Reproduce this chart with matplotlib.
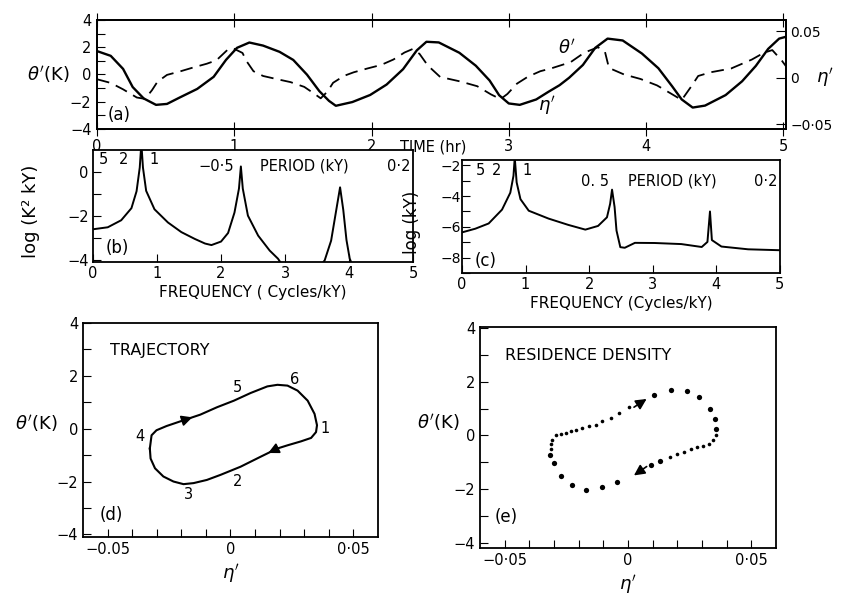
import numpy as np
import matplotlib.pyplot as plt

plt.rcParams['font.family'] = ['DejaVu Sans']
plt.rcParams['axes.linewidth'] = 1.3
plt.rcParams['font.size'] = 10

# (a) time series: theta' (dashed, K) and eta' (solid, right axis)
time_theta = [0.00, 0.10, 0.19, 0.29, 0.35, 0.40, 0.44, 0.51, 0.61, 0.70, 0.80, 0.87, 0.95, 0.99,
              1.06, 1.09, 1.14, 1.21, 1.31, 1.41, 1.51, 1.58, 1.63, 1.68, 1.72, 1.80, 1.87, 1.97,
              2.07, 2.16, 2.24, 2.30, 2.35, 2.41, 2.50, 2.65, 2.77, 2.87, 2.94, 2.99, 3.06, 3.14,
              3.23, 3.31, 3.45, 3.55, 3.65, 3.70, 3.73, 3.84, 3.96, 4.08, 4.18, 4.26, 4.33, 4.38,
              4.47, 4.62, 4.77, 4.86, 4.92, 4.99, 5.02]
theta_vals = [-0.35, -0.62, -1.09, -1.69, -1.79, -1.16, -0.54, -0.03, 0.24, 0.51, 0.79, 1.04, 1.80, 1.93,
              1.58, 0.97, 0.24, -0.11, -0.34, -0.56, -0.91, -1.39, -1.75, -1.24, -0.61, -0.10, 0.16, 0.44,
              0.70, 1.10, 1.61, 1.87, 1.51, 0.66, -0.18, -0.52, -0.86, -1.46, -1.81, -1.43, -0.67, -0.16,
              0.24, 0.45, 0.90, 1.60, 2.00, 1.70, 0.48, 0.00, -0.33, -0.80, -1.39, -1.87, -0.87, -0.11,
              0.16, 0.44, 1.09, 1.60, 1.79, 1.01, 0.60]
time_eta = [0.00, 0.10, 0.19, 0.26, 0.34, 0.43, 0.51, 0.60, 0.73, 0.85, 0.94, 1.02, 1.11, 1.21,
            1.33, 1.43, 1.53, 1.62, 1.69, 1.74, 1.86, 1.99, 2.11, 2.23, 2.33, 2.40, 2.49, 2.64,
            2.76, 2.86, 2.93, 3.00, 3.08, 3.20, 3.29, 3.37, 3.44, 3.54, 3.63, 3.72, 3.83, 3.97,
            4.09, 4.19, 4.26, 4.34, 4.43, 4.58, 4.70, 4.80, 4.89, 4.97, 5.02]
eta_vals = [0.0286, 0.0235, 0.0095, -0.0100, -0.0222, -0.0291, -0.0281, -0.0214, -0.0120, 0.0010, 0.0192,
            0.0321, 0.0378, 0.0345, 0.0278, 0.0191, 0.0033, -0.0144, -0.0248, -0.0301, -0.0261, -0.0185,
            -0.0073, 0.0092, 0.0294, 0.0386, 0.0379, 0.0268, 0.0129, -0.0029, -0.0188, -0.0276, -0.0291,
            -0.0233, -0.0150, -0.0080, 0.0000, 0.0137, 0.0321, 0.0420, 0.0400, 0.0260, 0.0102, -0.0091,
            -0.0233, -0.0320, -0.0299, -0.0186, -0.0038, 0.0127, 0.0310, 0.0420, 0.0440]

# (b) spectrum of theta'
freq_b = [0.00, 0.23, 0.44, 0.60, 0.68, 0.73, 0.755, 0.78, 0.83, 0.96, 1.17, 1.38, 1.59, 1.75, 1.85,
          2.00, 2.11, 2.21, 2.28, 2.31, 2.34, 2.42, 2.58, 2.76, 2.89, 2.97, 3.55, 3.62, 3.72, 3.80,
          3.86, 3.91, 3.96, 4.01, 4.06]
logpow_b = [-2.61, -2.52, -2.20, -1.65, -0.88, 0.20, 1.30, 0.20, -0.86, -1.70, -2.30, -2.74, -3.05, -3.26,
            -3.33, -3.17, -2.78, -1.85, -0.76, 0.25, -0.76, -1.99, -2.90, -3.58, -3.95, -4.3, -4.3, -4.02,
            -3.13, -1.74, -0.70, -1.73, -3.10, -3.94, -4.3]

# (c) spectrum of eta'
freq_c = [0.00, 0.21, 0.42, 0.63, 0.76, 0.81, 0.83, 0.86, 0.92, 1.05, 1.36, 1.67, 1.94, 2.14, 2.28,
          2.33, 2.36, 2.40, 2.43, 2.49, 2.56, 2.72, 3.03, 3.45, 3.77, 3.86, 3.90, 3.93, 4.08, 4.50, 5.00]
logpow_c = [-6.36, -6.12, -5.78, -4.88, -3.78, -2.68, -1.50, -3.11, -4.20, -4.95, -5.46, -5.87, -6.18,
            -5.94, -5.38, -4.50, -3.58, -4.71, -6.24, -7.32, -7.36, -7.04, -7.05, -7.12, -7.31, -6.98,
            -5.00, -6.86, -7.28, -7.46, -7.52]

period_ticks = ['5', '2', '1', '0·5', '0·2']

# (d) trajectory in (eta', theta') plane
traj_eta = [-0.0328, -0.0321, -0.0301, -0.0260, -0.0184, -0.0123, -0.0055, 0.0014, 0.0082, 0.0150,
            0.0191, 0.0232, 0.0273, 0.0314, 0.0342, 0.0352, 0.0348, 0.0328, 0.0287, 0.0232, 0.0191,
            0.0123, 0.0041, -0.0041, -0.0096, -0.0150, -0.0191, -0.0232, -0.0273, -0.0307, -0.0325,
            -0.0328]
traj_theta = [-0.75, -0.25, -0.06, 0.10, 0.34, 0.53, 0.81, 1.06, 1.35, 1.60, 1.66, 1.63, 1.44, 1.06,
              0.56, 0.13, -0.13, -0.35, -0.48, -0.63, -0.75, -1.06, -1.44, -1.75, -1.94, -2.06, -2.10,
              -2.00, -1.81, -1.50, -1.13, -0.75]
time_marks = ['1', '2', '3', '4', '5', '6']
mark_eta = [0.0383, 0.0027, -0.0171, -0.0369, 0.0027, 0.0260]
mark_theta = [0.00, -2.00, -2.50, -0.28, 1.56, 1.85]

# (e) residence density points
dens_eta = [-0.0316, -0.0314, -0.0311, -0.0307, -0.0293, -0.0273, -0.0253, -0.0232, -0.0212, -0.0185,
            -0.0158, -0.0131, -0.0104, -0.0070, -0.0036, 0.0004, 0.0105, 0.0173, 0.0241, 0.0288,
            0.0332, 0.0351, 0.0357, 0.0355, 0.0346, 0.0328, 0.0305, 0.0281, 0.0254, 0.0227, 0.0200,
            0.0170, 0.0130, 0.0092, -0.0043, -0.0104, -0.0169, -0.0226, -0.0270, -0.0300]
dens_theta = [-0.73, -0.52, -0.33, -0.15, 0.00, 0.07, 0.10, 0.15, 0.20, 0.28, 0.35, 0.41, 0.53, 0.65,
              0.84, 1.06, 1.52, 1.70, 1.67, 1.43, 0.99, 0.62, 0.25, 0.00, -0.17, -0.30, -0.40, -0.44,
              -0.52, -0.60, -0.69, -0.80, -0.95, -1.10, -1.75, -1.94, -2.04, -1.85, -1.53, -1.04]
dens_big = [1, 0, 0, 0, 0, 0, 0, 0, 0, 0, 0, 0, 0, 0, 0, 0, 1, 1, 1, 1,
            1, 1, 1, 0, 0, 0, 0, 0, 0, 0, 0, 0, 1, 1, 1, 1, 1, 1, 1, 1]

fig = plt.figure(figsize=(8.45, 5.98), dpi=100)

# ---------------- (a)
ax = fig.add_axes([0.1148, 0.7843, 0.8154, 0.1823])
ax.plot(time_theta, theta_vals, color='k', lw=1.3, dashes=(7, 4))
ax.set_xlim(0, 5.02)
ax.set_ylim(-4, 4)
ax.set_yticks(range(-4, 5))
ax.set_yticklabels(['−4', '', '−2', '', '0', '', '2', '', '4'])
ax.set_xticks(range(0, 6))
ax.tick_params(axis='y', direction='in', length=6, labelsize=10.5, pad=4)
ax.tick_params(axis='x', direction='inout', length=10, labelsize=10.5, top=True, pad=2)
ax2 = ax.twinx()
ax2.plot(time_eta, eta_vals, color='k', lw=1.7)
ax2.set_ylim(-0.055, 0.062)
ax2.set_yticks([-0.05, 0, 0.05])
ax2.set_yticklabels(['−0·05', '0', '0.05'])
ax2.tick_params(axis='y', direction='in', length=7, labelsize=10, pad=3)
ax.text(-0.04, 0.5, r"$\theta'$(K)", transform=ax.transAxes, ha='right', va='center', fontsize=13)
ax2.text(1.043, 0.47, r"$\eta'$", transform=ax2.transAxes, ha='left', va='center', fontsize=13)
ax.text(0.08, -2.95, '(a)', fontsize=12, va='center')
ax.text(3.42, 1.95, r"$\theta'$", fontsize=13, ha='center', va='center')
ax.text(3.28, -2.3, r"$\eta'$", fontsize=13, ha='center', va='center')
ax.text(2.45, -0.1, 'TIME (hr)', transform=ax.get_xaxis_transform(), ha='center', va='top', fontsize=10.5)

# ---------------- (b)
axb = fig.add_axes([0.1101, 0.5619, 0.3787, 0.1873])
axb.plot(freq_b, logpow_b, color='k', lw=1.4)
axb.set_xlim(0, 5)
axb.set_ylim(-4.1, 1.0)
axb.set_yticks([0, -1, -2, -3, -4])
axb.set_yticklabels(['0', '', '−2', '', '−4'])
axb.set_xticks(range(0, 6))
axb.tick_params(direction='in', length=6, labelsize=10.5, pad=3)
axb.set_ylabel('log (K² kY)', fontsize=13)
axb.yaxis.set_label_coords(-0.165, 0.45)
axb.set_xlabel('FREQUENCY ( Cycles/kY)', fontsize=11, labelpad=3)
axb.text(0.2, -3.45, '(b)', fontsize=12, va='center')

# ---------------- (c)
axc = fig.add_axes([0.5467, 0.5435, 0.3763, 0.189])
axc.plot(freq_c, logpow_c, color='k', lw=1.4)
axc.set_xlim(0, 5)
axc.set_ylim(-9.0, -1.65)
axc.set_yticks(range(-2, -10, -1))
axc.set_yticklabels(['−2', '', '−4', '', '−6', '', '−8', ''])
axc.set_xticks(range(0, 6))
axc.tick_params(axis='x', direction='in', length=6, labelsize=10.5, pad=3)
axc.tick_params(axis='y', direction='in', length=6, labelsize=10, pad=1)
axc.set_ylabel('log (kY)', fontsize=12)
axc.yaxis.set_label_coords(-0.13, 0.45)
axc.set_xlabel('FREQUENCY (Cycles/kY)', fontsize=11, labelpad=3)
axc.text(0.2, -8.2, '(c)', fontsize=12, va='center')

# period labels along the top of (b) and (c)
for a, xs, y1, y2, half in [(axb, [0.16, 0.47, 0.96, 1.92, 4.78], 0.985, 0.92, '−0·5'),
                            (axc, [0.29, 0.55, 1.02, 2.09, 4.78], 0.975, 0.88, '0. 5')]:
    labs = period_ticks[:3] + [half, period_ticks[4]]
    for i, (xp, lab) in enumerate(zip(xs, labs)):
        yy = y1 if i < 3 else y2
        a.text(xp, yy, lab, transform=a.get_xaxis_transform(), ha='center', va='top', fontsize=10.5)
    a.text(3.3, y2, 'PERIOD (kY)', transform=a.get_xaxis_transform(), ha='center', va='top', fontsize=10.5)

# ---------------- (d)
axd = fig.add_axes([0.0982, 0.102, 0.3491, 0.3579])
axd.plot(traj_eta, traj_theta, color='k', lw=1.5)
for i0, i1 in [(4, 5), (20, 21)]:
    axd.annotate('', xy=(traj_eta[i1], traj_theta[i1]), xytext=(traj_eta[i0], traj_theta[i0]),
                 arrowprops=dict(arrowstyle='-|>', color='k', lw=1.2, mutation_scale=16, shrinkB=6))
for lab, xe, yt in zip(time_marks, mark_eta, mark_theta):
    axd.text(xe, yt, lab, fontsize=10.5, ha='center', va='center')
axd.text(0.09, 0.87, 'TRAJECTORY', transform=axd.transAxes, fontsize=11.5, va='center')
axd.text(0.055, -3.25, '(d)', transform=axd.get_yaxis_transform(), fontsize=12, va='center')

# ---------------- (e)
axe = fig.add_axes([0.568, 0.0836, 0.3503, 0.3696])
big = np.array(dens_big, dtype=bool)
de = np.array(dens_eta)
dt = np.array(dens_theta)
axe.plot(de[~big], dt[~big], 'o', color='k', ms=2.6, mec='none')
axe.plot(de[big], dt[big], 'o', color='k', ms=3.8, mec='none')
axe.annotate('', xy=(0.0085, 1.42), xytext=(0.0015, 1.0),
             arrowprops=dict(arrowstyle='-|>', color='k', lw=1.2, mutation_scale=16))
axe.annotate('', xy=(0.0015, -1.55), xytext=(0.0085, -1.1),
             arrowprops=dict(arrowstyle='-|>', color='k', lw=1.2, mutation_scale=16))
axe.text(0.085, 0.87, 'RESIDENCE DENSITY', transform=axe.transAxes, fontsize=11.5, va='center')
axe.text(0.05, -3.05, '(e)', transform=axe.get_yaxis_transform(), fontsize=12, va='center')

for a, lim_y, labs in [(axd, (-4.1, 4.0), ['−0.05', '0', '0·05']),
                       (axe, (-4.2, 4.05), ['−0·05', '0', '0·05'])]:
    a.set_xlim(-0.06, 0.06)
    a.set_ylim(*lim_y)
    xt = np.round(np.arange(-0.05, 0.0501, 0.01), 3)
    a.set_xticks(xt)
    a.set_xticklabels([labs[0]] + [''] * 4 + [labs[1]] + [''] * 4 + [labs[2]])
    a.set_yticks(range(-4, 5))
    a.set_yticklabels(['−4', '', '−2', '', '0', '', '2', '', '4'])
    a.tick_params(direction='in', length=6, labelsize=10.5)
    a.set_xlabel(r"$\eta'$", fontsize=13, labelpad=4)

axd.text(-0.085, 0.53, r"$\theta'$(K)", transform=axd.transAxes, ha='right', va='center', fontsize=13)
axe.text(-0.07, 0.57, r"$\theta'$(K)", transform=axe.transAxes, ha='right', va='center', fontsize=13)

fig.savefig('out.png', dpi=100, facecolor='white')
